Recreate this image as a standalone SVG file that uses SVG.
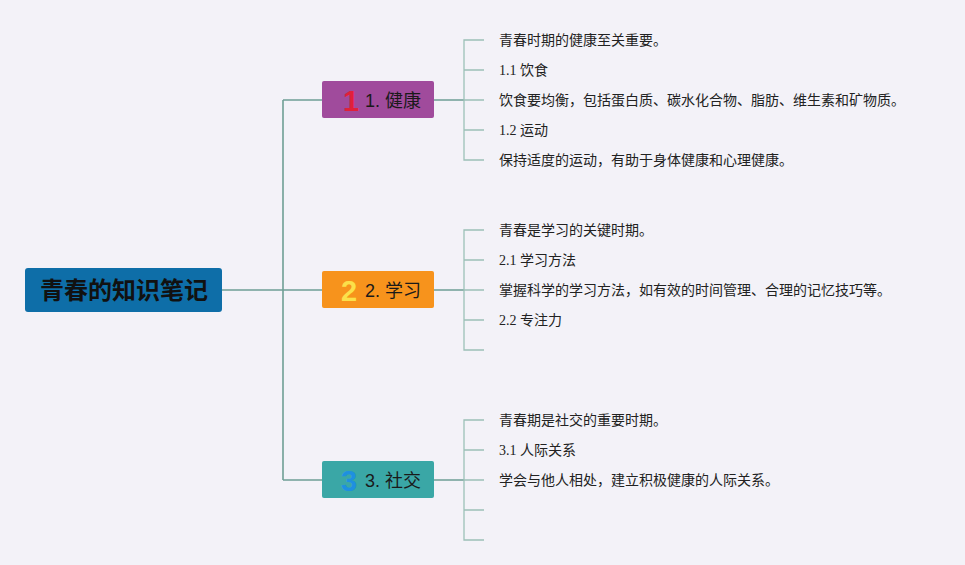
<svg xmlns="http://www.w3.org/2000/svg" width="965" height="565" viewBox="0 0 965 565">
<style>
.bg{fill:#f3f2f8}
.main{stroke:#6f9f95;stroke-width:1.6;fill:none}
.sub{stroke:#9cc0b7;stroke-width:1.3;fill:none}
.root{font-family:"Noto Sans CJK SC",sans-serif;font-weight:bold;font-size:24px;fill:#111}
.blab{font-family:"Liberation Sans","Noto Sans CJK SC",sans-serif;font-size:18px;fill:#1a1a1a}
.num{font-family:"Liberation Sans",sans-serif;font-weight:bold;font-size:29px}
.leaf{font-family:"Liberation Serif","Noto Sans CJK SC",serif;font-size:14px;fill:#222}
</style>
<rect class="bg" x="0" y="0" width="965" height="565"/>
<g id="connectors">
<path class="main" d="M222 290H283M283 100V480M283 100H322M283 290H322M283 480H322"/>
<path class="main" d="M434 100H464M434 290H464M434 480H464"/>
<path class="sub" d="M484 40H464V160H484M464 70H484M464 100H484M464 130H484"/>
<path class="sub" d="M484 230H464V350H484M464 260H484M464 290H484M464 320H484"/>
<path class="sub" d="M484 420H464V540H484M464 450H484M464 480H484M464 510H484"/>
</g>
<g id="root">
<rect x="25" y="268" width="197" height="44" rx="3" fill="#0e6ea8"/>
<text class="root" x="124" y="299" text-anchor="middle">青春的知识笔记</text>
</g>
<g id="b1">
<rect x="322" y="81" width="112" height="37" rx="2" fill="#a04b9c"/>
<text class="num" x="343" y="111" fill="#e0203a">1</text>
<text class="blab" x="365" y="107">1. 健康</text>
</g>
<g id="b2">
<rect x="322" y="271" width="112" height="37" rx="2" fill="#f7931c"/>
<text class="num" x="341" y="301" fill="#fbe04a">2</text>
<text class="blab" x="365" y="297">2. 学习</text>
</g>
<g id="b3">
<rect x="322" y="461" width="112" height="37" rx="2" fill="#3aa7a6"/>
<text class="num" x="341" y="491" fill="#1e90e0">3</text>
<text class="blab" x="365" y="487">3. 社交</text>
</g>
<g id="l1">
<text class="leaf" x="499" y="45">青春时期的健康至关重要。</text>
<text class="leaf" x="499" y="75">1.1 饮食</text>
<text class="leaf" x="499" y="105">饮食要均衡，包括蛋白质、碳水化合物、脂肪、维生素和矿物质。</text>
<text class="leaf" x="499" y="135">1.2 运动</text>
<text class="leaf" x="499" y="165">保持适度的运动，有助于身体健康和心理健康。</text>
</g>
<g id="l2">
<text class="leaf" x="499" y="235">青春是学习的关键时期。</text>
<text class="leaf" x="499" y="265">2.1 学习方法</text>
<text class="leaf" x="499" y="295">掌握科学的学习方法，如有效的时间管理、合理的记忆技巧等。</text>
<text class="leaf" x="499" y="325">2.2 专注力</text>
</g>
<g id="l3">
<text class="leaf" x="499" y="425">青春期是社交的重要时期。</text>
<text class="leaf" x="499" y="455">3.1 人际关系</text>
<text class="leaf" x="499" y="485">学会与他人相处，建立积极健康的人际关系。</text>
</g>
</svg>
